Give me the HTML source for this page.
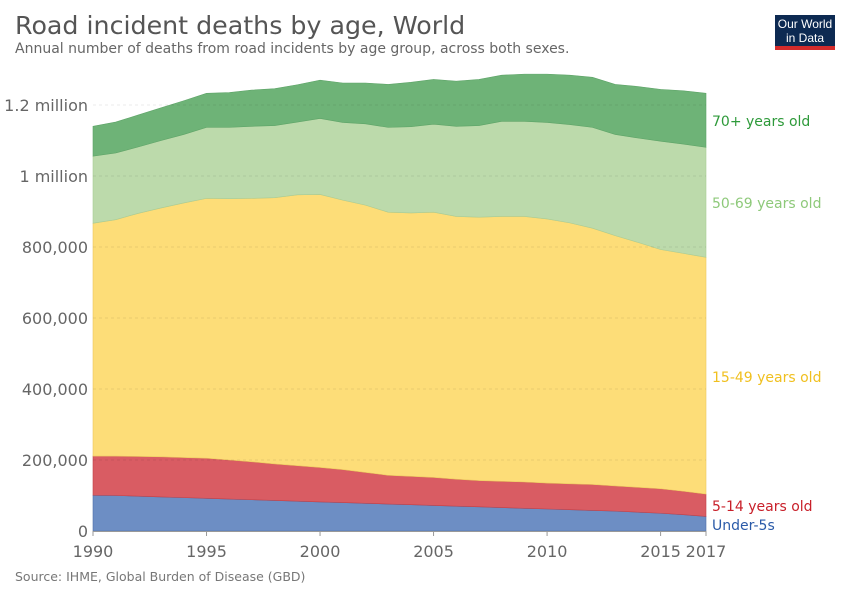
<!DOCTYPE html>
<html><head><meta charset="utf-8"><style>
body{margin:0;background:#fff;font-family:"DejaVu Sans","Liberation Sans",sans-serif}
</style></head><body>
<svg id="chart" width="850" height="600" xmlns="http://www.w3.org/2000/svg">
<text x="15" y="34" font-size="25.3" fill="#555">Road incident deaths by age, World</text>
<text x="15" y="53" font-size="14" fill="#666">Annual number of deaths from road incidents by age group, across both sexes.</text>
<g>
<rect x="775" y="15" width="60" height="31" fill="#0d2a52"/>
<rect x="775" y="46" width="60" height="4" fill="#d42b2b"/>
<text x="805" y="28" font-size="12" fill="#fff" text-anchor="middle" font-family="Liberation Sans, sans-serif">Our World</text>
<text x="805" y="42" font-size="12" fill="#fff" text-anchor="middle" font-family="Liberation Sans, sans-serif">in Data</text>
</g>
<g id="areas"></g><g id="grid"></g><g id="axes"></g>
<text x="15" y="581" font-size="12.5" fill="#777">Source: IHME, Global Burden of Disease (GBD)</text>
</svg>
<script>
const years=[1990,1991,1992,1993,1994,1995,1996,1997,1998,1999,2000,2001,2002,2003,2004,2005,2006,2007,2008,2009,2010,2011,2012,2013,2014,2015,2016,2017];
// cumulative stacked tops (thousands of deaths)
const topUnder5=[101,100,98,96,94,92,90,88,86,84,82,80,78,76,74,72,70,68,66,64,62,60,58,56,53,50,46,41];
const top5to14=[211,211,210,209,207,205,200,195,189,184,179,173,165,157,154,151,146,142,140,138,135,133,131,127,123,119,112,104];
const top15to49=[867,877,895,910,924,937,936,937,939,947,948,932,918,898,896,898,886,884,886,886,879,868,853,832,813,793,782,771];
const top50to69=[1056,1065,1082,1100,1117,1137,1137,1140,1142,1152,1162,1151,1147,1137,1139,1146,1140,1142,1154,1154,1151,1145,1137,1117,1107,1098,1090,1081];
const top70plus=[1140,1152,1172,1192,1212,1233,1235,1242,1246,1257,1270,1262,1262,1258,1264,1272,1267,1272,1284,1287,1287,1284,1278,1258,1252,1244,1240,1233];
const yTicks=[0,200,400,600,800,1000,1200];
const yTickLabels=["0","200,000","400,000","600,000","800,000","1 million","1.2 million"];
const xTicks=[1990,1995,2000,2005,2010,2015,2017];
const ns="http://www.w3.org/2000/svg";
const x=v=>93+(v-1990)*(706-93)/27;
const y=v=>531-v*71/200;
function mk(tag,attrs,parent){const e=document.createElementNS(ns,tag);for(const k in attrs)e.setAttribute(k,attrs[k]);parent.appendChild(e);return e;}
const grid=document.getElementById('grid'),areas=document.getElementById('areas'),axes=document.getElementById('axes');
yTicks.forEach((t,i)=>{
 if(t>0){const l=mk('line',{x1:93,x2:706,y1:y(t),y2:y(t),stroke:'#000','stroke-opacity':0.08,'stroke-dasharray':'3,3'},grid);
 
 }
 const tx=mk('text',{x:88,y:y(t)+6,'font-size':16,fill:'#666','text-anchor':'end'},axes);tx.textContent=yTickLabels[i];
 
 
});
const zero=years.map(()=>0);
const series=[
 {lo:zero,hi:topUnder5,fill:'#6d8ec4',stroke:'#4f6fa8',name:'area-under-5',label:'Under-5s',lc:'#2a5aa8'},
 {lo:topUnder5,hi:top5to14,fill:'#d95c63',stroke:'#c04048',name:'area-5-14',label:'5-14 years old',lc:'#c8202a'},
 {lo:top5to14,hi:top15to49,fill:'#fddd78',stroke:'#ecc860',name:'area-15-49',label:'15-49 years old',lc:'#f0c020'},
 {lo:top15to49,hi:top50to69,fill:'#bcdaab',stroke:'#a8cc95',name:'area-50-69',label:'50-69 years old',lc:'#8ec97a'},
 {lo:top50to69,hi:top70plus,fill:'#6eb377',stroke:'#5ea468',name:'area-70-plus',label:'70+ years old',lc:'#2e9a3a'}];
const labelY=[525,506,377,203,121];
series.forEach((s,si)=>{
 let d='M'+years.map((yr,i)=>x(yr)+','+y(s.hi[i])).join('L');
 for(let i=years.length-1;i>=0;i--)d+='L'+x(years[i])+','+y(s.lo[i]);
 const p=mk('path',{d:d+'Z',fill:s.fill,stroke:s.stroke,'stroke-width':0.6},areas);
 
 
 const t=mk('text',{x:712,y:labelY[si]+5,'font-size':14,fill:s.lc},axes);t.textContent=s.label;
 
 
});
const ax=mk('line',{x1:93,x2:706,y1:531.5,y2:531.5,stroke:'#999'},axes);


xTicks.forEach(t=>{
 const tk=mk('line',{x1:x(t),x2:x(t),y1:531,y2:536,stroke:'#999'},axes);
 
 
 const tx=mk('text',{x:x(t),y:557,'font-size':16,fill:'#666','text-anchor':'middle'},axes);tx.textContent=t;
 
 
});
</script>
</body></html>
